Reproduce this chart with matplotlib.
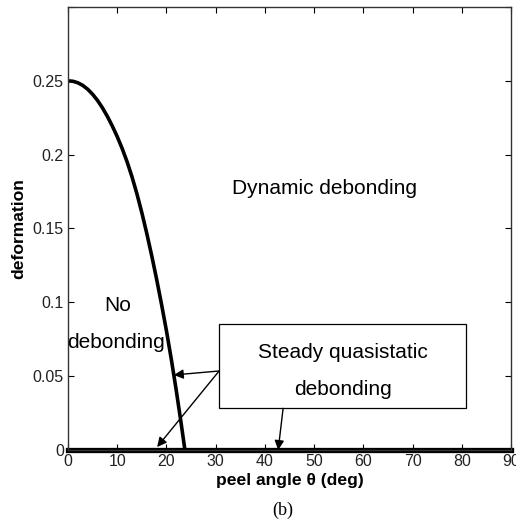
import matplotlib.pyplot as plt
from matplotlib.patches import Rectangle

plt.rcParams['font.family'] = ['Liberation Sans', 'DejaVu Sans']

# boundary curve between no debonding and dynamic debonding
angle = [0, 1, 2, 3, 4, 5, 6, 7, 8, 9, 10, 11, 12, 13, 14, 15, 16, 17, 18, 19, 20, 21, 22, 23, 23.75]
deform = [0.25, 0.2497, 0.2487, 0.2469, 0.2443, 0.2409, 0.2367, 0.2317, 0.2259, 0.2194, 0.2122,
          0.2042, 0.1952, 0.1850, 0.1735, 0.1607, 0.1467, 0.1317, 0.1157, 0.0987, 0.0807,
          0.0612, 0.0402, 0.0177, 0.0]

# zero deformation line
flat_x = [0, 90]
flat_y = [0, 0]

xticks = [0, 10, 20, 30, 40, 50, 60, 70, 80, 90]
yticks = [0, 0.05, 0.1, 0.15, 0.2, 0.25, 0.3]
ytick_labels = ['0', '0.05', '0.1', '0.15', '0.2', '0.25', '']

fig = plt.figure(figsize=(5.16, 5.23), dpi=100)
ax = fig.add_axes([0.1318, 0.1396, 0.8585, 0.847])

ax.plot(angle, deform, color='black', lw=2.6, solid_joinstyle='round')
ax.plot(flat_x, flat_y, color='black', lw=3.8, clip_on=False)

ax.set_xlim(0, 90)
ax.set_ylim(0, 0.3)
ax.set_xticks(xticks)
ax.set_yticks(yticks)
ax.set_yticklabels(ytick_labels)
ax.tick_params(direction='in', top=True, right=True, labelsize=11.5, length=4, pad=3,
               labelcolor='#222222')
for s in ax.spines.values():
    s.set_linewidth(1.0)
    s.set_color('#333333')

ax.set_xlabel('peel angle θ (deg)', fontsize=12.6, fontweight='bold', labelpad=3)
ax.set_ylabel('deformation', fontsize=12.6, fontweight='bold', labelpad=5)

ax.text(52.2, 0.177, 'Dynamic debonding', fontsize=15, ha='center', va='center')
ax.text(10.0, 0.098, 'No', fontsize=15, ha='center', va='center')
ax.text(9.8, 0.073, 'debonding', fontsize=15, ha='center', va='center')

# box for steady quasistatic debonding
ax.add_patch(Rectangle((30.7, 0.0282), 50.2, 0.0569, fc='white', ec='black', lw=0.9, zorder=3))
ax.text(55.9, 0.0659, 'Steady quasistatic', fontsize=15, ha='center', va='center', zorder=4)
ax.text(55.9, 0.0413, 'debonding', fontsize=15, ha='center', va='center', zorder=4)

arrow = dict(arrowstyle='-|>', color='black', lw=1.0, mutation_scale=14, shrinkA=0, shrinkB=0)
ax.annotate('', xy=(21.5, 0.0508), xytext=(30.7, 0.0535), arrowprops=arrow)
ax.annotate('', xy=(18.1, 0.002), xytext=(30.7, 0.0535), arrowprops=arrow)
ax.annotate('', xy=(42.7, 0.0), xytext=(43.7, 0.0282), arrowprops=arrow)

fig.text(0.548, 0.024, '(b)', fontsize=13, family='Liberation Serif', ha='center', va='center')

fig.savefig('out.png', dpi=100)
